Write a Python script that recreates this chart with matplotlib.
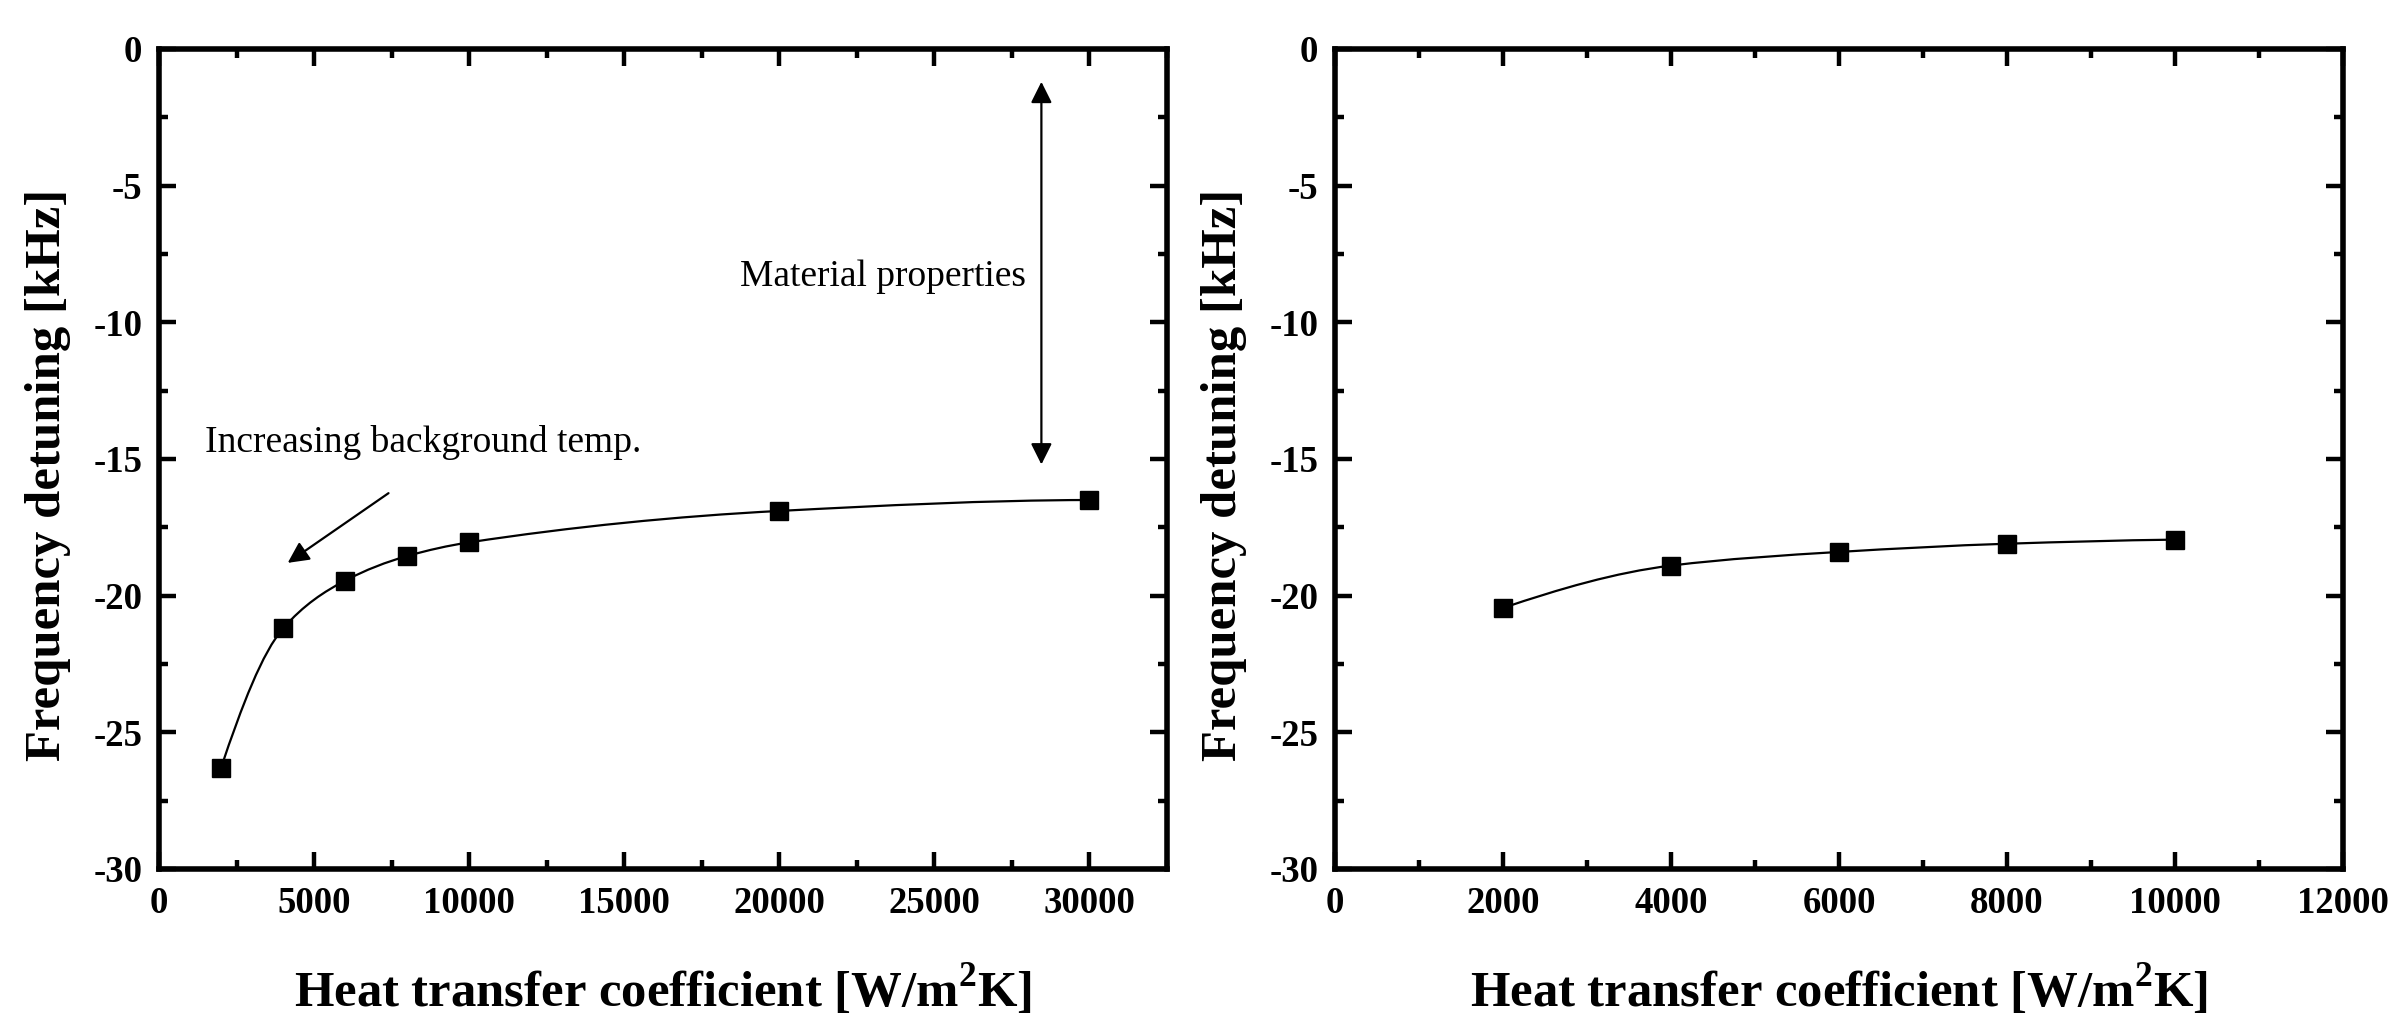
import matplotlib
matplotlib.use('Agg')
import matplotlib.pyplot as plt
import numpy as np
from matplotlib.path import Path
from matplotlib.patches import PathPatch
from matplotlib.ticker import MultipleLocator

plt.rcParams['font.family'] = ['Liberation Serif', 'DejaVu Serif']
plt.rcParams['axes.unicode_minus'] = False
plt.rcParams['mathtext.fontset'] = 'custom'
plt.rcParams['mathtext.rm'] = 'Liberation Serif'
plt.rcParams['mathtext.bf'] = 'Liberation Serif:bold'

#%% data
h_left = [2000, 4000, 6000, 8000, 10000, 20000, 30000]
df_left = [-26.3, -21.2, -19.45, -18.55, -18.05, -16.9, -16.5]

h_right = [2000, 4000, 6000, 8000, 10000]
df_right = [-20.45, -18.9, -18.4, -18.1, -17.95]

xlabel = r'Heat transfer coefficient [W/m$^{\mathbf{2}}$K]'
ylabel = 'Frequency detuning [kHz]'


#%%
def pchip_slopes(x, y):
    # monotone slopes (Fritsch-Carlson) for a smooth connecting line
    x = np.asarray(x, float)
    y = np.asarray(y, float)
    h = np.diff(x)
    d = np.diff(y) / h
    m = np.zeros_like(x)
    for k in range(1, len(x) - 1):
        if d[k-1] * d[k] > 0:
            w1 = 2*h[k] + h[k-1]
            w2 = h[k] + 2*h[k-1]
            m[k] = (w1 + w2) / (w1/d[k-1] + w2/d[k])
    m[0] = ((2*h[0] + h[1])*d[0] - h[0]*d[1]) / (h[0] + h[1])
    if m[0]*d[0] <= 0:
        m[0] = 0
    m[-1] = ((2*h[-1] + h[-2])*d[-1] - h[-1]*d[-2]) / (h[-1] + h[-2])
    if m[-1]*d[-1] <= 0:
        m[-1] = 0
    return m


def smooth_line(ax, x, y):
    m = pchip_slopes(x, y)
    verts = [(x[0], y[0])]
    codes = [Path.MOVETO]
    for k in range(len(x) - 1):
        hk = (x[k+1] - x[k]) / 3.0
        verts += [(x[k] + hk, y[k] + m[k]*hk),
                  (x[k+1] - hk, y[k+1] - m[k+1]*hk),
                  (x[k+1], y[k+1])]
        codes += [Path.CURVE4]*3
    ax.add_patch(PathPatch(Path(verts, codes), facecolor='none',
                           edgecolor='black', lw=1.6, zorder=2))


def style_axes(ax, xmax, xmajor):
    ax.set_xlim(0, xmax)
    ax.set_ylim(-30, 0)
    ax.xaxis.set_major_locator(MultipleLocator(xmajor))
    ax.xaxis.set_minor_locator(MultipleLocator(xmajor/2))
    ax.yaxis.set_major_locator(MultipleLocator(5))
    ax.yaxis.set_minor_locator(MultipleLocator(2.5))
    ax.tick_params(which='both', direction='in', top=True, right=True,
                   width=3.2, labelsize=26.5, pad=12)
    ax.tick_params(which='major', length=12)
    ax.tick_params(which='minor', length=6.5)
    for lab in ax.get_xticklabels() + ax.get_yticklabels():
        lab.set_fontweight('bold')
    for sp in ax.spines.values():
        sp.set_linewidth(4)
    ax.set_xlabel(xlabel, fontsize=36.5, fontweight='bold', va='center')
    ax.set_ylabel(ylabel, fontsize=36.5, fontweight='bold', va='center')
    ax.xaxis.set_label_coords(0.5, -0.148)
    ax.yaxis.set_label_coords(-0.11, 0.48)


fig = plt.figure(figsize=(23.9, 10.16), dpi=100)
ax1 = fig.add_axes([159/2390, 1 - 869/1016, 1008/2390, 820/1016])
ax2 = fig.add_axes([1335/2390, 1 - 869/1016, 1008/2390, 820/1016])

#%% left panel
smooth_line(ax1, h_left, df_left)
ax1.plot(h_left, df_left, 's', color='black', ms=13, zorder=3)
style_axes(ax1, 32500, 5000)

ax1.annotate('', xy=(28450, -1.2), xytext=(28450, -15.2),
             arrowprops=dict(arrowstyle='<|-|>', color='black', lw=1.6,
                             mutation_scale=32, shrinkA=0, shrinkB=0))
ax1.text(27950, -8.35, 'Material properties', fontsize=27,
         ha='right', va='center')
ax1.annotate('', xy=(4150, -18.8), xytext=(7400, -16.25),
             arrowprops=dict(arrowstyle='-|>', color='black', lw=1.6,
                             mutation_scale=32, shrinkA=0, shrinkB=0))
ax1.text(1480, -14.4, 'Increasing background temp.', fontsize=27,
         ha='left', va='center')

#%% right panel
smooth_line(ax2, h_right, df_right)
ax2.plot(h_right, df_right, 's', color='black', ms=13, zorder=3)
style_axes(ax2, 12000, 2000)

fig.savefig('out.png', dpi=100)
